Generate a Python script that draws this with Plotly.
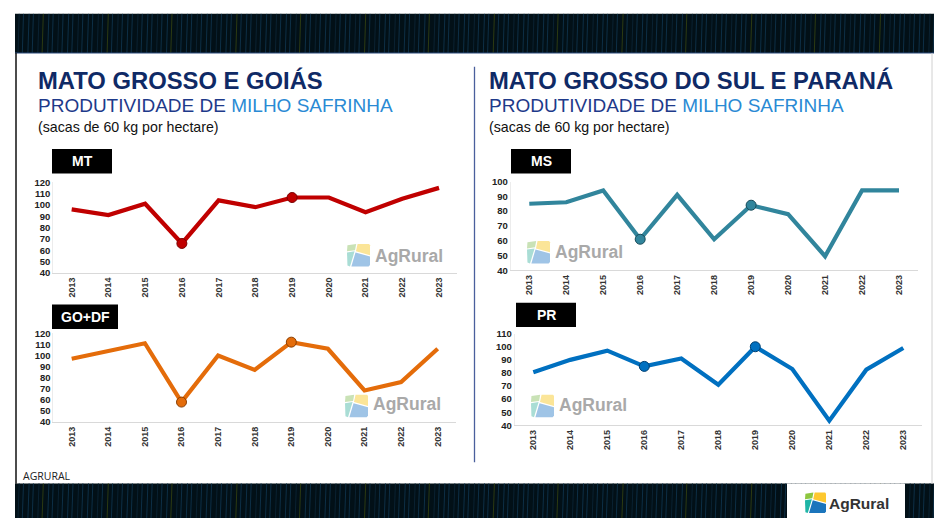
import plotly.graph_objects as go

# ---------------- data ----------------
years = [2013, 2014, 2015, 2016, 2017, 2018, 2019, 2020, 2021, 2022, 2023]
year_labels = [str(y) for y in years]
mt = [96, 91, 101, 66, 104, 98, 106.5, 106.5, 93.5, 105.5, 115]
go_df = [97, 104, 111, 58, 100, 87, 112, 106, 68.5, 76, 106]
ms = [85, 86, 94, 61, 91, 61, 84, 78, 49.5, 94, 94]
pr = [80.5, 90, 97, 85, 91, 71, 100, 83, 43.5, 82.5, 99]
highlight_years = [2016, 2019]
panel_names = ["MT", "GO+DF", "MS", "PR"]

W, H = 934, 523
FONT = "Liberation Sans, Arial, sans-serif"


def px(x):
    return x / W


def py(y):
    return 1 - y / H


fig = go.Figure()
shapes = []
annotations = []

# ---------------- background decoration ----------------
def band(y0, y1):
    shapes.append(dict(type="rect", xref="paper", yref="paper", x0=px(15), x1=1,
                       y0=py(y1), y1=py(y0), fillcolor="#021017", line=dict(width=0), layer="below"))
    i = 0
    x = 18
    while x < W:
        if i % 13 == 5:
            col = "#2c3a12"
        elif i % 4 == 0:
            col = "#0a2232"
        else:
            col = "#0d2f46"
        shapes.append(dict(type="line", xref="paper", yref="paper", x0=px(x), x1=px(x + 1.2),
                           y0=py(y1), y1=py(y0), line=dict(color=col, width=1), layer="below"))
        x += 5.6 if i % 2 else 4.3
        i += 1

band(8, 48)
band(487.7, 523)
# banner bottom line
shapes.append(dict(type="line", xref="paper", yref="paper", x0=px(15), x1=1, y0=py(48), y1=py(48),
                   line=dict(color="#2b4a7c", width=1.2)))
# left border of content box
shapes.append(dict(type="line", xref="paper", yref="paper", x0=px(16), x1=px(16), y0=py(48), y1=py(488),
                   line=dict(color="#111111", width=1.5)))
# right border
shapes.append(dict(type="line", xref="paper", yref="paper", x0=px(932), x1=px(932), y0=py(48), y1=py(488),
                   line=dict(color="#d0d0d0", width=1)))
# divider
shapes.append(dict(type="line", xref="paper", yref="paper", x0=px(474.5), x1=px(474.5), y0=py(62), y1=py(466),
                   line=dict(color="#4a5f9c", width=1.3)))
# bottom logo box
shapes.append(dict(type="rect", xref="paper", yref="paper", x0=px(787), x1=px(905), y0=py(523), y1=py(487.7),
                   fillcolor="white", line=dict(width=0)))


def icon(x0, y0, s, cols):
    polys = [
        [(0.02, 0.06), (0.40, 0.0), (0.35, 0.28), (0.0, 0.33)],
        [(0.46, 0.0), (0.96, 0.0), (1.0, 0.06), (1.0, 0.50), (0.39, 0.33)],
        [(0.0, 0.38), (0.33, 0.33), (0.13, 1.0), (0.02, 0.96)],
        [(0.37, 0.38), (1.0, 0.56), (1.0, 0.94), (0.94, 1.0), (0.19, 1.0)],
    ]
    for poly, c in zip(polys, cols):
        path = "M " + " L ".join(f"{px(x0 + u * s):.5f},{py(y0 + v * s):.5f}" for u, v in poly) + " Z"
        shapes.append(dict(type="path", xref="paper", yref="paper", path=path,
                           fillcolor=c, line=dict(width=0)))


wm_cols = ["#c9e2b6", "#fbe598", "#a9ddd5", "#9fc4e6"]
logo_cols = ["#8dc63f", "#fdc82f", "#1fb5a6", "#1b75bc"]

# watermark logos (icon + text)
for ix, iy, tx, ty in [(347, 243, 373, 255), (345, 397, 371, 407), (527, 240, 553, 251), (531, 397, 557, 408)]:
    icon(ix, iy, 23, wm_cols)
    annotations.append(dict(xref="paper", yref="paper", x=px(tx), y=py(ty), xanchor="left", yanchor="middle",
                            text="<b>AgRural</b>", showarrow=False,
                            font=dict(family=FONT, size=17.5, color="#a9a9a9")))

# bottom logo
icon(805, 497, 21, logo_cols)
annotations.append(dict(xref="paper", yref="paper", x=px(827), y=py(508), xanchor="left", yanchor="middle",
                        text="<b>AgRural</b>", showarrow=False,
                        font=dict(family=FONT, size=15.5, color="#333333")))

# ---------------- titles ----------------
for x0, t in [(36, "MATO GROSSO E GOIÁS"), (487, "MATO GROSSO DO SUL E PARANÁ")]:
    annotations.append(dict(xref="paper", yref="paper", x=px(x0), y=py(76.5), xanchor="left", yanchor="middle",
                            text=f"<b>{t}</b>", showarrow=False,
                            font=dict(family=FONT, size=23.8, color="#0f2a66")))
    annotations.append(dict(xref="paper", yref="paper", x=px(x0), y=py(102), xanchor="left", yanchor="middle",
                            text="PRODUTIVIDADE DE <span style='color:#2a8ad4'>MILHO SAFRINHA</span>",
                            showarrow=False, font=dict(family=FONT, size=19, color="#1e3a8a")))
    annotations.append(dict(xref="paper", yref="paper", x=px(x0), y=py(123.5), xanchor="left", yanchor="middle",
                            text="(sacas de 60 kg por hectare)", showarrow=False,
                            font=dict(family=FONT, size=14.2, color="#111111")))

annotations.append(dict(xref="paper", yref="paper", x=px(21), y=py(480), xanchor="left", yanchor="middle",
                        text="AGRURAL", showarrow=False,
                        font=dict(family="Open Sans, sans-serif", size=10.5, color="#222222")))

# ---------------- panels ----------------
panels = [
    # name, values, colour, marker outline, x domain px, y px (bottom, top), y range, label box px
    ("MT", mt, "#c00000", "#7a0000", (53.3, 457.4), (272.7, 180.0), (40, 120), (52, 112, 146, 171)),
    ("GO+DF", go_df, "#e46c0a", "#8a3d00", (53.4, 456.0), (425.0, 334.3), (40, 120), (52, 118, 305, 330)),
    ("MS", ms, "#31859c", "#174a58", (510.8, 917.5), (270.0, 179.3), (40, 100), (511, 571, 146, 171)),
    ("PR", pr, "#0070c0", "#003f70", (514.8, 921.8), (428.3, 334.7), (40, 110), (516, 576, 303, 328)),
]

layout_axes = {}
for i, (name, vals, col, edge, xd, yd, yr, box) in enumerate(panels):
    k = "" if i == 0 else str(i + 1)
    xa, ya = "x" + k, "y" + k
    fig.add_trace(go.Scatter(x=years, y=vals, mode="lines", line=dict(color=col, width=4.2),
                             xaxis=xa, yaxis=ya, showlegend=False, hoverinfo="x+y"))
    hy = [v for y, v in zip(years, vals) if y in highlight_years]
    hx = [y for y in years if y in highlight_years]
    fig.add_trace(go.Scatter(x=hx, y=hy, mode="markers",
                             marker=dict(color=col, size=10, line=dict(color=edge, width=1)),
                             xaxis=xa, yaxis=ya, showlegend=False, hoverinfo="x+y"))
    layout_axes["xaxis" + k] = dict(domain=[px(xd[0]), px(xd[1])], range=[2012.5, 2023.5],
                                    tickvals=years, ticktext=year_labels, tickangle=-90,
                                    tickfont=dict(family=FONT, size=9, color="#333333", weight="bold"),
                                    showline=True, linecolor="#d9d9d9", linewidth=1, showgrid=False,
                                    zeroline=False, ticks="", anchor=ya, fixedrange=True)
    layout_axes["yaxis" + k] = dict(domain=[py(yd[0]), py(yd[1])], range=list(yr), dtick=10,
                                    tickfont=dict(family=FONT, size=9.5, color="#222222", weight="bold"),
                                    showline=True, linecolor="#ececec", linewidth=1, showgrid=False,
                                    zeroline=False, ticks="", anchor=xa, fixedrange=True)
    # label box
    shapes.append(dict(type="rect", xref="paper", yref="paper", x0=px(box[0]), x1=px(box[1]),
                       y0=py(box[3]), y1=py(box[2]), fillcolor="#000000", line=dict(width=0)))
    annotations.append(dict(xref="paper", yref="paper", x=px((box[0] + box[1]) / 2), y=py((box[2] + box[3]) / 2),
                            xanchor="center", yanchor="middle", text=f"<b>{name}</b>", showarrow=False,
                            font=dict(family=FONT, size=14, color="white")))

fig.update_layout(
    width=W, height=H, autosize=False,
    margin=dict(l=0, r=0, t=0, b=0),
    paper_bgcolor="white", plot_bgcolor="rgba(0,0,0,0)",
    shapes=shapes, annotations=annotations,
    showlegend=False,
    **layout_axes,
)

fig.write_html("out.html", config={"displayModeBar": False},
               post_script="document.body.style.margin='0';document.body.style.overflow='hidden';")
